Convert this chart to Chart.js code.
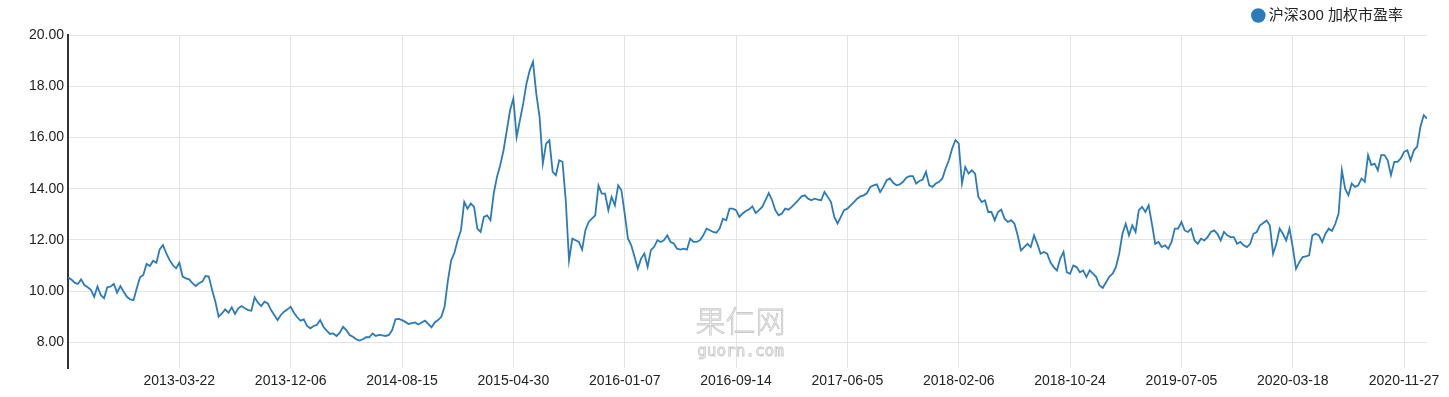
<!DOCTYPE html>
<html>
<head>
<meta charset="utf-8">
<script src="https://cdn.jsdelivr.net/npm/chart.js@4.4.1/dist/chart.umd.min.js"></script>
<style>
  body { margin: 0; background: #fff; }
  #wrap { width: 1449px; height: 397px; }
</style>
</head>
<body>
<div id="wrap"><canvas id="grafPE"></canvas></div>
<script>
// ------------------------------------------------------
// 1. Data (one value about every 5 trading days)
// ------------------------------------------------------
const seriesName = "沪深300 加权市盈率";

const tickLabels = [
  "2013-03-22", "2013-12-06", "2014-08-15", "2015-04-30", "2016-01-07", "2016-09-14",
  "2017-06-05", "2018-02-06", "2018-10-24", "2019-07-05", "2020-03-18", "2020-11-27"
];
const tickEvery = 34; // samples between two labelled dates

const yTicks = [8, 10, 12, 14, 16, 18, 20];

const peValues = [
  10.54, 10.46, 10.33, 10.28, 10.46, 10.24, 10.15, 10.05, 9.78, 10.18,
  9.85, 9.72, 10.15, 10.18, 10.28, 9.94, 10.20, 9.98, 9.78, 9.68,
  9.65, 10.11, 10.54, 10.63, 11.06, 10.98, 11.19, 11.11, 11.63, 11.80,
  11.48, 11.22, 11.02, 10.89, 11.11, 10.57, 10.50, 10.46, 10.31, 10.20,
  10.31, 10.37, 10.59, 10.57, 10.05, 9.59, 9.00, 9.13, 9.29, 9.16,
  9.37, 9.11, 9.33, 9.42, 9.33, 9.26, 9.24, 9.76, 9.55, 9.42,
  9.59, 9.52, 9.26, 9.07, 8.87, 9.07, 9.20, 9.29, 9.39, 9.16,
  8.98, 8.85, 8.90, 8.64, 8.55, 8.64, 8.68, 8.87, 8.61, 8.46,
  8.33, 8.35, 8.25, 8.38, 8.61, 8.48, 8.29, 8.22, 8.12, 8.07,
  8.12, 8.20, 8.20, 8.35, 8.25, 8.29, 8.27, 8.25, 8.29, 8.48,
  8.90, 8.92, 8.87, 8.80, 8.72, 8.75, 8.78, 8.70, 8.78, 8.85,
  8.72, 8.59, 8.78, 8.87, 9.00, 9.40, 10.40, 11.20, 11.50, 12.00,
  12.38, 13.48, 13.22, 13.42, 13.29, 12.44, 12.31, 12.90, 12.96, 12.77,
  13.81, 14.46, 14.92, 15.50, 16.28, 17.06, 17.52, 16.02, 16.67, 17.32,
  18.10, 18.62, 18.95, 17.71, 16.80, 14.98, 15.76, 15.89, 14.66, 14.53,
  15.11, 15.05, 13.55, 11.20, 12.05, 11.99, 11.92, 11.62, 12.38, 12.70,
  12.83, 12.96, 14.13, 13.81, 13.81, 13.16, 13.68, 13.35, 14.13, 13.94,
  13.03, 12.05, 11.79, 11.34, 10.88, 11.27, 11.47, 10.95, 11.60, 11.73,
  11.99, 11.92, 11.99, 12.18, 11.92, 11.86, 11.66, 11.62, 11.66, 11.62,
  12.05, 11.92, 11.92, 11.99, 12.18, 12.44, 12.38, 12.31, 12.28, 12.44,
  12.83, 12.77, 13.22, 13.22, 13.16, 12.90, 13.03, 13.13, 13.20, 13.31,
  13.05, 13.16, 13.29, 13.55, 13.83, 13.55, 13.16, 12.96, 13.03, 13.22,
  13.18, 13.29, 13.42, 13.55, 13.70, 13.74, 13.61, 13.55, 13.61, 13.57,
  13.55, 13.87, 13.68, 13.48, 12.90, 12.64, 12.90, 13.16, 13.22, 13.35,
  13.48, 13.61, 13.70, 13.74, 13.83, 14.07, 14.13, 14.17, 13.87, 14.07,
  14.33, 14.40, 14.23, 14.13, 14.17, 14.27, 14.43, 14.49, 14.49, 14.20,
  14.30, 14.36, 14.66, 14.13, 14.07, 14.20, 14.27, 14.40, 14.79, 15.11,
  15.57, 15.90, 15.77, 14.20, 14.85, 14.59, 14.72, 14.59, 13.68, 13.48,
  13.55, 13.09, 13.09, 12.77, 13.09, 13.18, 12.83, 12.70, 12.77, 12.64,
  12.18, 11.59, 11.72, 11.85, 11.72, 12.18, 11.85, 11.46, 11.53, 11.46,
  11.13, 10.94, 10.81, 11.27, 11.53, 10.74, 10.68, 11.00, 10.94, 10.74,
  10.81, 10.55, 10.81, 10.68, 10.55, 10.22, 10.13, 10.35, 10.57, 10.68,
  10.94, 11.46, 12.24, 12.63, 12.18, 12.57, 12.31, 13.16, 13.29, 13.09,
  13.35, 12.63, 11.85, 11.92, 11.72, 11.79, 11.66, 11.92, 12.44, 12.44,
  12.70, 12.37, 12.31, 12.44, 11.98, 11.85, 12.05, 11.98, 12.11, 12.31,
  12.37, 12.24, 11.98, 12.31, 12.18, 12.11, 12.11, 11.85, 11.92, 11.79,
  11.72, 11.85, 12.24, 12.31, 12.57, 12.66, 12.76, 12.57, 11.46, 11.85,
  12.44, 12.24, 11.98, 12.44, 11.72, 10.87, 11.13, 11.33, 11.36, 11.40,
  12.18, 12.24, 12.18, 11.92, 12.24, 12.44, 12.35, 12.63, 13.03, 14.72,
  14.00, 13.74, 14.20, 14.07, 14.13, 14.40, 14.27, 15.31, 14.92, 14.98,
  14.72, 15.31, 15.31, 15.11, 14.53, 15.05, 15.05, 15.18, 15.44, 15.50,
  15.11, 15.50, 15.64, 16.42, 16.87, 16.74
];

// ------------------------------------------------------
// 2. Plugins: legend nudge + watermark
// ------------------------------------------------------
const legendNudge = {
  id: "legendNudge",
  afterLayout(chart) {
    const lg = chart.legend;
    lg.right = chart.chartArea.right - 14;
    lg.top -= 2;
  }
};

const watermark = {
  id: "watermark",
  beforeDatasetsDraw(chart) {
    const { ctx, chartArea } = chart;
    const cx = (chartArea.left + chartArea.right) / 2 - 7;
    ctx.save();
    ctx.textAlign = "center";
    ctx.textBaseline = "middle";
    ctx.lineWidth = 0.8;
    ctx.strokeStyle = "#c8c8c8";
    ctx.fillStyle = "#f7f7f7";
    ctx.font = "300 30px 'Noto Sans CJK SC'";
    ctx.fillText("果仁网", cx, chartArea.bottom - 47);
    ctx.strokeText("果仁网", cx, chartArea.bottom - 47);
    ctx.font = "16px 'DejaVu Sans Mono'";
    ctx.fillText("guorn.com", cx, chartArea.bottom - 16);
    ctx.strokeText("guorn.com", cx, chartArea.bottom - 16);
    ctx.restore();
  }
};

// ------------------------------------------------------
// 3. Chart
// ------------------------------------------------------
const ctx = document.getElementById("grafPE");

const grafico = new Chart(ctx, {
  type: "line",
  data: {
    datasets: [{
      label: seriesName,
      data: peValues.map((v, i) => ({ x: i, y: v })),
      borderColor: "#2b7bba",
      backgroundColor: "#2b7bba",
      borderWidth: 1.8,
      pointRadius: 0,
      tension: 0
    }]
  },
  options: {
    responsive: true,
    maintainAspectRatio: false,
    animation: false,
    layout: { padding: { left: 0, right: 22, top: 0, bottom: 0 } },
    plugins: {
      tooltip: { enabled: false },
      legend: {
        position: "top",
        align: "end",
        labels: {
          usePointStyle: true,
          pointStyle: "circle",
          boxWidth: 6,
          boxHeight: 9,
          padding: 10,
          color: "#222",
          font: { size: 15, family: "'Liberation Sans', 'Noto Sans CJK SC', sans-serif" }
        }
      }
    },
    scales: {
      x: {
        type: "linear",
        min: 0,
        max: peValues.length - 1,
        afterBuildTicks: axis => {
          axis.ticks = tickLabels.map((_, k) => ({ value: (k + 1) * tickEvery }));
        },
        afterFit: scale => { scale.height = 29; },
        ticks: {
          autoSkip: false,
          maxRotation: 0,
          padding: 5,
          color: "#222",
          font: { size: 14, family: "'Liberation Sans', sans-serif" },
          callback: v => tickLabels[v / tickEvery - 1]
        },
        grid: { color: "#e4e4e4", lineWidth: 1, drawTicks: false },
        border: { display: false }
      },
      y: {
        min: 7,
        max: 20,
        afterBuildTicks: axis => {
          axis.ticks = yTicks.map(v => ({ value: v }));
        },
        afterFit: scale => { scale.width = 68; },
        ticks: {
          padding: 4,
          color: "#222",
          font: { size: 14, family: "'Liberation Sans', sans-serif" },
          callback: v => v.toFixed(2)
        },
        grid: { color: "#e4e4e4", lineWidth: 1, drawTicks: false },
        border: { display: true, color: "#333", width: 2 }
      }
    }
  },
  plugins: [legendNudge, watermark]
});
</script>
</body>
</html>
